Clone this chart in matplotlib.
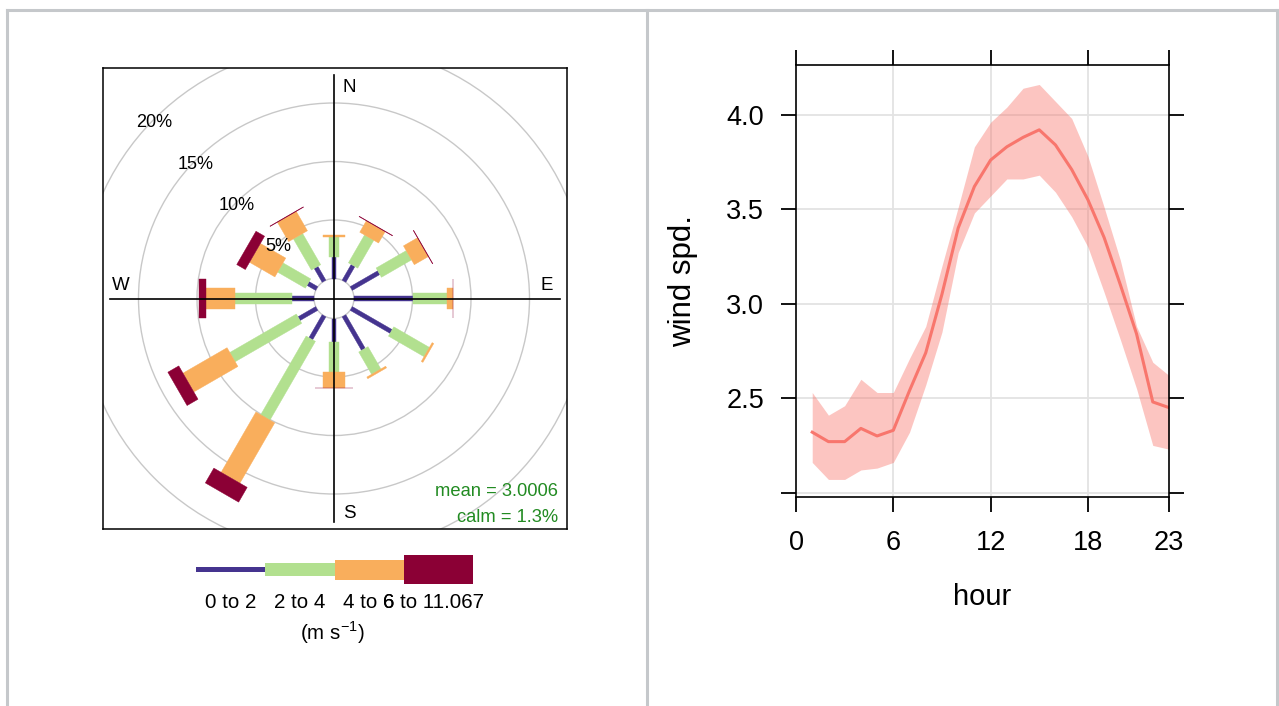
import numpy as np
import matplotlib
matplotlib.use("Agg")
import matplotlib.pyplot as plt
from matplotlib.patches import Polygon, Circle, Rectangle
from matplotlib.lines import Line2D

plt.rcParams['font.family'] = ['Liberation Sans', 'DejaVu Sans']
plt.rcParams['mathtext.fontset'] = 'custom'
plt.rcParams['mathtext.rm'] = 'Liberation Sans'

# ---------------- data ----------------
directions = [0, 30, 60, 90, 120, 150, 180, 210, 240, 270, 300, 330]
ws_0_2 = [1.86, 1.55, 2.71, 5.07, 3.93, 3.31, 1.98, 2.26, 1.74, 1.91, 0.85, 1.36]
ws_2_4 = [1.71, 2.75, 2.97, 2.90, 3.51, 2.20, 2.57, 7.77, 6.57, 4.80, 2.74, 3.08]
ws_4_6 = [0.15, 1.12, 1.38, 0.47, 0.16, 0.16, 1.35, 5.95, 4.35, 2.50, 2.50, 1.91]
ws_6_11 = [0.00, 0.04, 0.04, 0.04, 0.00, 0.00, 0.04, 1.46, 1.08, 0.58, 0.85, 0.04]
speed_labels = ["0 to 2", "2 to 4", "4 to 6", "6 to 11.067"]
speed_colors = ["#45348F", "#B2E08F", "#F9AE5C", "#8B0035"]
ring_levels = [5, 10, 15, 20]
mean_text = "mean = 3.0006"
calm_text = "calm = 1.3%"

hours = list(range(1, 24))
ws_mean = [2.32, 2.27, 2.27, 2.34, 2.30, 2.33, 2.54, 2.74, 3.05, 3.40, 3.62, 3.76,
           3.83, 3.88, 3.92, 3.84, 3.71, 3.55, 3.35, 3.10, 2.84, 2.48, 2.45]
ws_upper = [2.53, 2.41, 2.46, 2.60, 2.53, 2.53, 2.71, 2.88, 3.20, 3.51, 3.83, 3.96,
            4.04, 4.14, 4.16, 4.07, 3.98, 3.78, 3.51, 3.23, 2.88, 2.69, 2.62]
ws_lower = [2.16, 2.07, 2.07, 2.12, 2.13, 2.16, 2.32, 2.57, 2.85, 3.27, 3.48, 3.57,
            3.66, 3.66, 3.68, 3.59, 3.46, 3.30, 3.06, 2.81, 2.55, 2.25, 2.23]
hour_ticks = [0, 6, 12, 18, 23]
y_ticks = [2.0, 2.5, 3.0, 3.5, 4.0]
y_ticklabels = ["", "2.5", "3.0", "3.5", "4.0"]

# ---------------- figure ----------------
W, H = 1279, 706
fig = plt.figure(figsize=(W / 100, H / 100), dpi=100)
fig.patch.set_facecolor("white")

def fx(px):
    return px / W

def fy(py):
    return 1 - py / H

# outer frame
frame_col = "#c5c8cb"
for (x0, y0, x1, y1) in [(7, 9.5, 1277, 9.5), (7, 9.5, 7, 706), (647, 9.5, 647, 706), (1277, 9.5, 1277, 706)]:
    fig.add_artist(Line2D([fx(x0), fx(x1)], [fy(y0), fy(y1)], color=frame_col, lw=2.2,
                          transform=fig.transFigure))

# ---------------- wind rose ----------------
SCALE = 11.7          # px per percent
OFFSET = 20 / SCALE   # calm circle radius in percent units
cx, cy = 334, 298.5
bl, br, bt, bb = 103, 567, 68, 529
ax = fig.add_axes([fx(bl), fy(bb), fx(br - bl), (bb - bt) / H])
ax.set_xlim((bl - cx) / SCALE, (br - cx) / SCALE)
ax.set_ylim((cy - bb) / SCALE, (cy - bt) / SCALE)
ax.set_xticks([])
ax.set_yticks([])
for s in ax.spines.values():
    s.set_linewidth(1.1)

# rings
ax.add_patch(Circle((0, 0), OFFSET, fill=False, ec="#c8c8c8", lw=1.0, zorder=1))
for lev in ring_levels:
    ax.add_patch(Circle((0, 0), OFFSET + lev, fill=False, ec="#c8c8c8", lw=1.0, zorder=1))
    r = OFFSET + lev
    a = np.deg2rad(315)
    ax.text(r * np.sin(a), r * np.cos(a) - 4 / SCALE, f"{lev}%", ha="center", va="center",
            fontsize=13, zorder=5)

# paddles
widths_px = [4.3, 10.7, 21.7, 38.5]
bins = [ws_0_2, ws_2_4, ws_4_6, ws_6_11]
for k, d in enumerate(directions):
    th = np.deg2rad(d)
    u = np.array([np.sin(th), np.cos(th)])
    v = np.array([np.cos(th), -np.sin(th)])
    c0 = 0.0
    for b, vals in enumerate(bins):
        c1 = c0 + vals[k]
        if vals[k] > 0:
            h = widths_px[b] / SCALE / 2
            r1, r2 = OFFSET + c0, OFFSET + c1
            pts = [r1 * u + h * v, r2 * u + h * v, r2 * u - h * v, r1 * u - h * v]
            ax.add_patch(Polygon(pts, closed=True, fc=speed_colors[b], ec=speed_colors[b],
                                 lw=0.3, zorder=3))
        c0 = c1

# cross lines
ax.plot([0, 0], [(cy - 522) / SCALE, (cy - 75) / SCALE], color="black", lw=1.2, zorder=4)
ax.plot([(110 - cx) / SCALE, (560 - cx) / SCALE], [0, 0], color="black", lw=1.2, zorder=4)

def dpt(px, py):
    return (px - cx) / SCALE, (cy - py) / SCALE

for lab, (px, py) in zip(["N", "S", "W", "E"], [(349, 88), (349, 513), (121, 285), (547, 285)]):
    x, y = dpt(px, py)
    ax.text(x, y, lab, ha="center", va="center", fontsize=13.5, zorder=5)

x, y = dpt(558, 491)
ax.text(x, y, mean_text, ha="right", va="center", fontsize=13.2, color="#228B22", zorder=5)
x, y = dpt(558, 517)
ax.text(x, y, calm_text, ha="right", va="center", fontsize=13.2, color="#228B22", zorder=5)

# legend (key)
kx0, kx1 = 196, 473
ky0, ky1 = 555, 584
kax = fig.add_axes([fx(kx0), fy(ky1), fx(kx1 - kx0), (ky1 - ky0) / H])
kax.set_xlim(0, len(speed_labels))
kax.set_ylim(-0.5, 0.5)
kax.axis("off")
key_heights = [5 / 29, 13 / 29, 20 / 29, 28.5 / 29]
label_shift = [0, 0, 0, -4.5]
for i, lab in enumerate(speed_labels):
    hh = key_heights[i]
    kax.add_patch(Rectangle((i, -hh / 2), 1, hh, fc=speed_colors[i], ec="none"))
    xc = kx0 + (i + 0.5) * (kx1 - kx0) / len(speed_labels) + label_shift[i]
    fig.text(fx(xc), fy(603), lab, ha="center", va="center", fontsize=14.8)
fig.text(fx(332), fy(633), r"(m s$^{\mathregular{-1}}$)", ha="center", va="center", fontsize=14.8)

# ---------------- time variation ----------------
pl, pr, pt, pb = 796, 1169, 65, 497
ax2 = fig.add_axes([fx(pl), fy(pb), fx(pr - pl), (pb - pt) / H])
ax2.set_xlim(0, 23)
ax2.set_ylim(1.977, 4.263)
for g in [6, 12, 18]:
    ax2.axvline(g, color="#e3e3e3", lw=1.3, zorder=0)
for g in y_ticks:
    ax2.axhline(g, color="#e3e3e3", lw=1.3, zorder=0)
ax2.fill_between(hours, ws_lower, ws_upper, color="#F8766D", alpha=0.42, lw=0, zorder=1)
ax2.plot(hours, ws_mean, color="#F8766D", lw=2.2, zorder=2)
ax2.set_xticks(hour_ticks)
ax2.set_yticks(y_ticks)
ax2.set_yticklabels(y_ticklabels)
ax2.tick_params(axis="both", which="both", direction="out", length=11, width=1.3,
                top=True, right=True, labelsize=19.5, colors="black")
ax2.tick_params(axis="x", pad=13)
ax2.tick_params(axis="y", pad=12)
for s in ax2.spines.values():
    s.set_linewidth(1.2)
ax2.set_xlabel("hour", fontsize=21)
ax2.set_ylabel("wind spd.", fontsize=22.5)
ax2.xaxis.set_label_coords(0.5, -(597 - pb) / (pb - pt))
ax2.xaxis.label.set_va("center")
ax2.yaxis.set_label_coords(-(pl - 683) / (pr - pl), 0.5)
ax2.yaxis.label.set_va("center")

fig.savefig("out.png", dpi=100)
